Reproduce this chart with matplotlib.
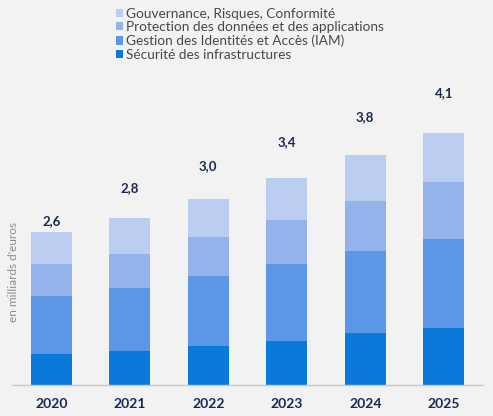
import matplotlib
matplotlib.use("Agg")
import matplotlib.pyplot as plt
import numpy as np

years = ["2020", "2021", "2022", "2023", "2024", "2025"]
series_names = [
    "Sécurité des infrastructures",
    "Gestion des Identités et Accès (IAM)",
    "Protection des données et des applications",
    "Gouvernance, Risques, Conformité",
]
infra = [0.52, 0.57, 0.66, 0.75, 0.87, 0.97]
iam = [0.98, 1.06, 1.18, 1.30, 1.40, 1.50]
protection = [0.55, 0.59, 0.66, 0.74, 0.84, 0.96]
gouvernance = [0.54, 0.60, 0.64, 0.71, 0.78, 0.83]
total_labels = ["2,6", "2,8", "3,0", "3,4", "3,8", "4,1"]

# layout: gap (data units) between bar top and total label
label_gaps = [0.17, 0.51, 0.56, 0.60, 0.64, 0.67]

colors = ["#0A79DA", "#5B96E7", "#94B3EB", "#BCCDF2"]
bg = "#F2F2F2"
navy = "#1B2850"

plt.rcParams["font.family"] = ["Lato", "DejaVu Sans"]

fig = plt.figure(figsize=(4.93, 4.16), dpi=100, facecolor=bg)
ax = fig.add_axes([12 / 493, 31 / 416, 471 / 493, 305 / 416], facecolor=bg)

x = np.arange(len(years))
bottom = np.zeros(len(years))
handles = []
for vals, c, name in zip([infra, iam, protection, gouvernance], colors, series_names):
    b = ax.bar(x, vals, width=0.52, bottom=bottom, color=c, label=name, linewidth=0)
    handles.append(b)
    bottom = bottom + np.array(vals)

for xi, top, lab, gap in zip(x, bottom, total_labels, label_gaps):
    ax.text(xi, top + gap, lab, ha="center", va="center", fontsize=9.5,
            fontweight="bold", color=navy)

ax.set_xlim(-0.5, len(years) - 0.5)
ax.set_ylim(0, 5.15)
ax.set_xticks(x)
ax.set_xticklabels(years, fontsize=10, fontweight="bold", color=navy)
ax.tick_params(axis="x", length=0, pad=9)
ax.set_yticks([])
for s in ["top", "right", "left"]:
    ax.spines[s].set_visible(False)
ax.spines["bottom"].set_color("#C8C8C8")
ax.spines["bottom"].set_linewidth(1)

fig.text(14 / 493, 1 - 272 / 416, "en milliards d'euros", rotation=90,
         ha="center", va="center", fontsize=8.5, color="#8C8C8C")

leg = fig.legend(handles[::-1], series_names[::-1], loc="upper left",
                 bbox_to_anchor=(106 / 493, 1 + 2 / 416), frameon=False,
                 fontsize=9.8, handlelength=0.55, handleheight=0.55,
                 handletextpad=0.25, labelspacing=0.12, borderpad=0.2)
for t in leg.get_texts():
    t.set_color("#484848")

fig.savefig("out.png", dpi=100, facecolor=bg)
